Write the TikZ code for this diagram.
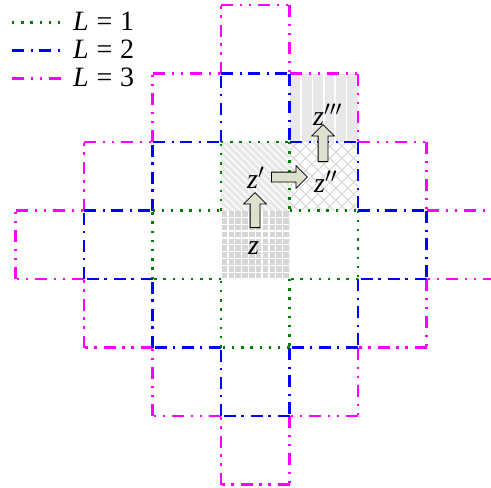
\documentclass[tikz,border=0pt]{standalone}
\usepackage{fontspec}
\setmainfont{Liberation Serif}
\usetikzlibrary{shapes.arrows,calc}
\definecolor{lgreen}{RGB}{0,128,0}
\definecolor{lblue}{RGB}{0,0,255}
\definecolor{lmag}{RGB}{255,0,255}
\definecolor{arrowfill}{RGB}{220,224,204}
\begin{document}
\begin{tikzpicture}[x=1pt,y=-1pt,
  lone/.style={draw=lgreen, line width=2.4pt, dash pattern=on 2.4pt off 6.8pt},
  ltwo/.style={draw=lblue, line width=2.4pt, dash pattern=on 12pt off 7pt on 2.4pt off 5.6pt},
  lthree/.style={draw=lmag, line width=2.4pt, dash pattern=on 12pt off 7pt on 2.4pt off 6.6pt on 2.4pt off 6.6pt},
  lbl/.style={font=\fontsize{28}{32}\selectfont, inner sep=0pt, anchor=base west},
  bigarrow/.style={single arrow, draw=black, line width=0.8pt, fill=arrowfill,
    inner xsep=0pt, inner ysep=4.5pt, single arrow head extend=6.5pt,
    single arrow tip angle=90, anchor=tail}
]
\useasboundingbox (0,0) rectangle (491,488);
\clip (0,0) rectangle (491,488);

% ---- cell fillings ----
% z : grid
\begin{scope}
  \clip (221,210.5) rectangle (289.5,279);
  \fill[gray!32] (221,210.5) rectangle (289.5,279);
  \foreach \i in {0,...,10} {
    \draw[white, line width=1.3pt] (221+6.85*\i,205) -- ++(0,80);
    \draw[white, line width=1.3pt] (215,210.5+6.85*\i) -- ++(80,0);
  }
\end{scope}
% z' : diagonal lines
\begin{scope}
  \clip (221,142) rectangle (289.5,210.5);
  \fill[gray!18] (221,142) rectangle (289.5,210.5);
  \foreach \k in {-11,...,11} {
    \draw[white, line width=1.2pt] (221+7*\k,142) -- ++(70,70);
  }
\end{scope}
% z'' : crosshatch
\begin{scope}
  \clip (289.5,142) rectangle (358,210.5);
  \foreach \k in {-7,...,7} {
    \draw[gray!35, line width=0.8pt] (289.5+12*\k,142) -- ++(70,70);
    \draw[gray!35, line width=0.8pt] (289.5+12*\k,210.5) -- ++(70,-70);
  }
\end{scope}
% z''' : vertical lines
\begin{scope}
  \clip (289.5,73.5) rectangle (358,142);
  \fill[gray!18] (289.5,73.5) rectangle (358,142);
  \foreach \k in {1,...,5} {
    \draw[white, line width=1.5pt] (289.5+11.42*\k,70) -- ++(0,75);
  }
\end{scope}

% ---- level boundaries ----
\begin{scope}[x=68.5pt, y=-68.5pt, shift={(221pt,-210.5pt)}]
  \foreach \x/\y [remember=\x as \px (initially 0), remember=\y as \py (initially -3)] in
    {1/-3, 1/-2, 2/-2, 2/-1, 3/-1, 3/0, 4/0, 4/1, 3/1, 3/2, 2/2, 2/3, 1/3, 1/4,
     0/4, 0/3, -1/3, -1/2, -2/2, -2/1, -3/1, -3/0, -2/0, -2/-1, -1/-1, -1/-2, 0/-2, 0/-3}
    {\draw[lthree] (\px,\py) -- (\x,\y);}
  \foreach \x/\y [remember=\x as \px (initially 0), remember=\y as \py (initially -2)] in
    {1/-2, 1/-1, 2/-1, 2/0, 3/0, 3/1, 2/1, 2/2, 1/2, 1/3, 0/3, 0/2, -1/2, -1/1,
     -2/1, -2/0, -1/0, -1/-1, 0/-1, 0/-2}
    {\draw[ltwo] (\px,\py) -- (\x,\y);}
  \foreach \x/\y [remember=\x as \px (initially 0), remember=\y as \py (initially -1)] in
    {1/-1, 1/0, 2/0, 2/1, 1/1, 1/2, 0/2, 0/1, -1/1, -1/0, 0/0, 0/-1}
    {\draw[lone] (\px,\py) -- (\x,\y);}
\end{scope}

% ---- legend ----
\coordinate (g1) at (12,22.5);  \coordinate (g1e) at (61,22.5);
\coordinate (g2) at (12,50.5);  \coordinate (g2e) at (61,50.5);
\coordinate (g3) at (12,78.5);  \coordinate (g3e) at (61,78.5);
\draw[lone] (g1) -- (g1e);
\draw[ltwo] (g2) -- (g2e);
\draw[lthree] (g3) -- (g3e);
\node[lbl] (t1) at (73,30) {\textit{L}\hspace{0.28em}=\hspace{0.28em}1};
\node[lbl] (t2) at (73,58) {\textit{L}\hspace{0.28em}=\hspace{0.28em}2};
\node[lbl] (t3) at (73,86) {\textit{L}\hspace{0.28em}=\hspace{0.28em}3};

% ---- labels ----
\node[lbl] (z)  at (248,254) {\textit{z}};
\node[lbl] (z1) at (247,188) {\textit{z}$'$};
\node[lbl] (z2) at (314,192) {\textit{z}$''$};
\node[lbl] (z3) at (313,125) {\textit{z}$'''$};

% ---- arrows ----
\coordinate (a1) at (255,228);
\coordinate (a2) at (271,177);
\coordinate (a3) at (323,162);
\node[bigarrow, minimum height=35pt, rotate=90] (ar1) at (a1) {};
\node[bigarrow, minimum height=36pt] (ar2) at (a2) {};
\node[bigarrow, minimum height=37pt, rotate=90] (ar3) at (a3) {};
\end{tikzpicture}
\end{document}
